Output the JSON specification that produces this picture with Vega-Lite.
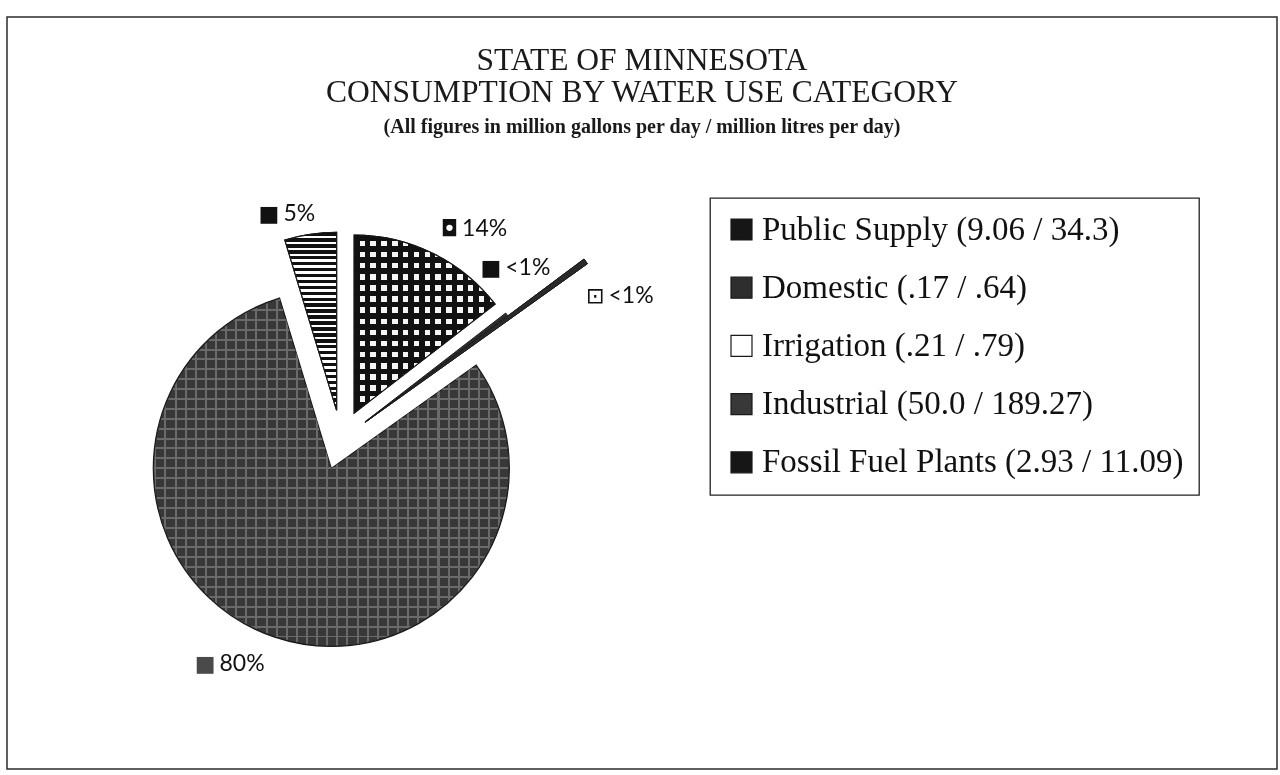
{
  "$schema": "https://vega.github.io/schema/vega-lite/v6.json",
  "width": 1270,
  "height": 752,
  "padding": {"left": 7, "top": 17, "right": 3, "bottom": 6},
  "background": "white",
  "view": {"stroke": "#2b2b2b", "strokeWidth": 1.5, "fill": null},
  "config": {
    "view": {"stroke": "#2b2b2b", "strokeWidth": 1.5},
    "style": {"cell": {"stroke": "#2b2b2b", "strokeWidth": 1.5}, "view": {"stroke": "#2b2b2b", "strokeWidth": 1.5}},
    "legend": {"strokeWidth": 1.3}
  },
  "title": {
    "text": ["STATE OF MINNESOTA", "CONSUMPTION BY WATER USE CATEGORY"],
    "subtitle": "(All figures in million gallons per day / million litres per day)",
    "anchor": "middle",
    "font": "Liberation Serif",
    "fontSize": 31.5,
    "fontWeight": "normal",
    "lineHeight": 32,
    "color": "#1a1a1a",
    "subtitleFont": "Liberation Serif",
    "subtitleFontSize": 20,
    "subtitleFontWeight": "bold",
    "subtitleColor": "#1a1a1a",
    "subtitlePadding": 9,
    "offset": -120
  },
  "data": {
    "values": [
      {"category": "Public Supply", "label": "Public Supply (9.06 / 34.3)", "mgd": 9.06, "mld": 34.3, "pct": "14%"},
      {"category": "Domestic", "label": "Domestic (.17 / .64)", "mgd": 0.17, "mld": 0.64, "pct": "<1%"},
      {"category": "Irrigation", "label": "Irrigation (.21 / .79)", "mgd": 0.21, "mld": 0.79, "pct": "<1%"},
      {"category": "Industrial", "label": "Industrial (50.0 / 189.27)", "mgd": 50.0, "mld": 189.27, "pct": "80%"},
      {"category": "Fossil Fuel Plants", "label": "Fossil Fuel Plants (2.93 / 11.09)", "mgd": 2.93, "mld": 11.09, "pct": "5%"}
    ]
  },
  "transform": [{"stack": "mgd", "groupby": [], "as": ["v0", "v1"]}],
  "layer": [
    {
      "transform": [{"filter": "datum.category === 'Public Supply'"}],
      "mark": {"type": "arc", "x": 334, "y": 423, "radius": 178, "xOffset": 13.2, "yOffset": -26.9, "stroke": "#1a1a1a", "strokeWidth": 1.2},
      "encoding": {
        "theta": {"field": "v0", "type": "quantitative", "scale": {"domain": [0, 62.37], "zero": true, "nice": false}},
        "theta2": {"field": "v1"},
        "color": {
          "field": "label", "type": "nominal",
          "scale": {
            "domain": ["Public Supply (9.06 / 34.3)", "Domestic (.17 / .64)", "Irrigation (.21 / .79)", "Industrial (50.0 / 189.27)", "Fossil Fuel Plants (2.93 / 11.09)"],
            "range": ["#161616", "#2e2e2e", "#ffffff", "#383838", "#161616"]
          },
          "legend": {
            "title": null, "orient": "none", "legendX": 703, "legendY": 181,
            "padding": 15, "strokeColor": "#222", "fillColor": "white",
            "symbolType": "square", "symbolSize": 441, "symbolStrokeColor": "#111", "symbolStrokeWidth": 1.2, "symbolOpacity": 1,
            "labelFont": "Liberation Serif", "labelFontSize": 33, "labelColor": "#111", "labelLimit": 700, "labelOffset": 4,
            "rowPadding": 24.2
          }
        }
      }
    },
    {
      "transform": [{"filter": "datum.category === 'Public Supply'"}],
      "mark": {"type": "arc", "x": 334, "y": 423, "radius": 178, "xOffset": 13.2, "yOffset": -26.9, "stroke": "#1a1a1a", "strokeWidth": 1.2,
        "fill": {"gradient": "linear", "x1": 0, "y1": 0, "x2": 0, "y2": 1, "stops": [
          {"offset": 0, "color": "#111"}, {"offset": 0.03125, "color": "#111"}, {"offset": 0.03125, "color": "#f4f4f4"}, {"offset": 0.0625, "color": "#f4f4f4"},
          {"offset": 0.0625, "color": "#111"}, {"offset": 0.09375, "color": "#111"}, {"offset": 0.09375, "color": "#f4f4f4"}, {"offset": 0.125, "color": "#f4f4f4"},
          {"offset": 0.125, "color": "#111"}, {"offset": 0.15625, "color": "#111"}, {"offset": 0.15625, "color": "#f4f4f4"}, {"offset": 0.1875, "color": "#f4f4f4"},
          {"offset": 0.1875, "color": "#111"}, {"offset": 0.21875, "color": "#111"}, {"offset": 0.21875, "color": "#f4f4f4"}, {"offset": 0.25, "color": "#f4f4f4"},
          {"offset": 0.25, "color": "#111"}, {"offset": 0.28125, "color": "#111"}, {"offset": 0.28125, "color": "#f4f4f4"}, {"offset": 0.3125, "color": "#f4f4f4"},
          {"offset": 0.3125, "color": "#111"}, {"offset": 0.34375, "color": "#111"}, {"offset": 0.34375, "color": "#f4f4f4"}, {"offset": 0.375, "color": "#f4f4f4"},
          {"offset": 0.375, "color": "#111"}, {"offset": 0.40625, "color": "#111"}, {"offset": 0.40625, "color": "#f4f4f4"}, {"offset": 0.4375, "color": "#f4f4f4"},
          {"offset": 0.4375, "color": "#111"}, {"offset": 0.46875, "color": "#111"}, {"offset": 0.46875, "color": "#f4f4f4"}, {"offset": 0.5, "color": "#f4f4f4"},
          {"offset": 0.5, "color": "#111"}, {"offset": 0.53125, "color": "#111"}, {"offset": 0.53125, "color": "#f4f4f4"}, {"offset": 0.5625, "color": "#f4f4f4"},
          {"offset": 0.5625, "color": "#111"}, {"offset": 0.59375, "color": "#111"}, {"offset": 0.59375, "color": "#f4f4f4"}, {"offset": 0.625, "color": "#f4f4f4"},
          {"offset": 0.625, "color": "#111"}, {"offset": 0.65625, "color": "#111"}, {"offset": 0.65625, "color": "#f4f4f4"}, {"offset": 0.6875, "color": "#f4f4f4"},
          {"offset": 0.6875, "color": "#111"}, {"offset": 0.71875, "color": "#111"}, {"offset": 0.71875, "color": "#f4f4f4"}, {"offset": 0.75, "color": "#f4f4f4"},
          {"offset": 0.75, "color": "#111"}, {"offset": 0.78125, "color": "#111"}, {"offset": 0.78125, "color": "#f4f4f4"}, {"offset": 0.8125, "color": "#f4f4f4"},
          {"offset": 0.8125, "color": "#111"}, {"offset": 0.84375, "color": "#111"}, {"offset": 0.84375, "color": "#f4f4f4"}, {"offset": 0.875, "color": "#f4f4f4"},
          {"offset": 0.875, "color": "#111"}, {"offset": 0.90625, "color": "#111"}, {"offset": 0.90625, "color": "#f4f4f4"}, {"offset": 0.9375, "color": "#f4f4f4"},
          {"offset": 0.9375, "color": "#111"}, {"offset": 0.96875, "color": "#111"}, {"offset": 0.96875, "color": "#f4f4f4"}, {"offset": 1, "color": "#f4f4f4"}
        ]}
      },
      "encoding": {
        "theta": {"field": "v0", "type": "quantitative"},
        "theta2": {"field": "v1"}
      }
    },
    {
      "transform": [{"filter": "datum.category === 'Public Supply'"}],
      "mark": {"type": "arc", "x": 334, "y": 423, "radius": 178, "xOffset": 13.2, "yOffset": -26.9, "strokeWidth": 0, "blend": "darken",
        "fill": {"gradient": "linear", "x1": 0, "y1": 0, "x2": 1, "y2": 0, "stops": [
          {"offset": 0, "color": "#111"}, {"offset": 0.03846, "color": "#111"}, {"offset": 0.03846, "color": "#f4f4f4"}, {"offset": 0.07692, "color": "#f4f4f4"},
          {"offset": 0.07692, "color": "#111"}, {"offset": 0.11538, "color": "#111"}, {"offset": 0.11538, "color": "#f4f4f4"}, {"offset": 0.15385, "color": "#f4f4f4"},
          {"offset": 0.15385, "color": "#111"}, {"offset": 0.19231, "color": "#111"}, {"offset": 0.19231, "color": "#f4f4f4"}, {"offset": 0.23077, "color": "#f4f4f4"},
          {"offset": 0.23077, "color": "#111"}, {"offset": 0.26923, "color": "#111"}, {"offset": 0.26923, "color": "#f4f4f4"}, {"offset": 0.30769, "color": "#f4f4f4"},
          {"offset": 0.30769, "color": "#111"}, {"offset": 0.34615, "color": "#111"}, {"offset": 0.34615, "color": "#f4f4f4"}, {"offset": 0.38462, "color": "#f4f4f4"},
          {"offset": 0.38462, "color": "#111"}, {"offset": 0.42308, "color": "#111"}, {"offset": 0.42308, "color": "#f4f4f4"}, {"offset": 0.46154, "color": "#f4f4f4"},
          {"offset": 0.46154, "color": "#111"}, {"offset": 0.5, "color": "#111"}, {"offset": 0.5, "color": "#f4f4f4"}, {"offset": 0.53846, "color": "#f4f4f4"},
          {"offset": 0.53846, "color": "#111"}, {"offset": 0.57692, "color": "#111"}, {"offset": 0.57692, "color": "#f4f4f4"}, {"offset": 0.61538, "color": "#f4f4f4"},
          {"offset": 0.61538, "color": "#111"}, {"offset": 0.65385, "color": "#111"}, {"offset": 0.65385, "color": "#f4f4f4"}, {"offset": 0.69231, "color": "#f4f4f4"},
          {"offset": 0.69231, "color": "#111"}, {"offset": 0.73077, "color": "#111"}, {"offset": 0.73077, "color": "#f4f4f4"}, {"offset": 0.76923, "color": "#f4f4f4"},
          {"offset": 0.76923, "color": "#111"}, {"offset": 0.80769, "color": "#111"}, {"offset": 0.80769, "color": "#f4f4f4"}, {"offset": 0.84615, "color": "#f4f4f4"},
          {"offset": 0.84615, "color": "#111"}, {"offset": 0.88462, "color": "#111"}, {"offset": 0.88462, "color": "#f4f4f4"}, {"offset": 0.92308, "color": "#f4f4f4"},
          {"offset": 0.92308, "color": "#111"}, {"offset": 0.96154, "color": "#111"}, {"offset": 0.96154, "color": "#f4f4f4"}, {"offset": 1, "color": "#f4f4f4"}
        ]}
      },
      "encoding": {
        "theta": {"field": "v0", "type": "quantitative"},
        "theta2": {"field": "v1"}
      }
    },
    {
      "transform": [{"filter": "datum.category === 'Domestic'"}],
      "mark": {"type": "arc", "x": 334, "y": 423, "radius": 178, "xOffset": 23.9, "yOffset": -18.1, "stroke": "#1a1a1a", "strokeWidth": 1},
      "encoding": {
        "theta": {"field": "v0", "type": "quantitative"},
        "theta2": {"field": "v1"},
        "color": {"field": "label", "type": "nominal"}
      }
    },
    {
      "transform": [{"filter": "datum.category === 'Irrigation'"}],
      "mark": {"type": "arc", "x": 334, "y": 423, "radius": 273, "xOffset": 24.2, "yOffset": -17.7, "stroke": "#1a1a1a", "strokeWidth": 1},
      "encoding": {
        "theta": {"field": "v0", "type": "quantitative"},
        "theta2": {"field": "v1"},
        "color": {"field": "label", "type": "nominal"}
      }
    },
    {
      "transform": [{"filter": "datum.category === 'Irrigation'"}],
      "mark": {"type": "arc", "x": 334, "y": 423, "radius": 273, "xOffset": 24.2, "yOffset": -17.7, "fill": "#2a2a2a", "stroke": "#1a1a1a", "strokeWidth": 1},
      "encoding": {
        "theta": {"field": "v0", "type": "quantitative"},
        "theta2": {"field": "v1"}
      }
    },
    {
      "transform": [{"filter": "datum.category === 'Industrial'"}],
      "mark": {"type": "arc", "x": 334, "y": 423, "radius": 178, "xOffset": -9.7, "yOffset": 28.4, "stroke": "#1a1a1a", "strokeWidth": 1.2},
      "encoding": {
        "theta": {"field": "v0", "type": "quantitative"},
        "theta2": {"field": "v1"},
        "color": {"field": "label", "type": "nominal"}
      }
    },
    {
      "transform": [{"filter": "datum.category === 'Industrial'"}],
      "mark": {"type": "arc", "x": 334, "y": 423, "radius": 177, "xOffset": -9.7, "yOffset": 28.4, "strokeWidth": 0, "blend": "lighten",
        "fill": {"gradient": "linear", "x1": 0, "y1": 0, "x2": 0, "y2": 1, "stops": [
          {"offset": 0, "color": "#6a6a6a"}, {"offset": 0.00571, "color": "#6a6a6a"}, {"offset": 0.00571, "color": "#000"}, {"offset": 0.02857, "color": "#000"},
          {"offset": 0.02857, "color": "#6a6a6a"}, {"offset": 0.03429, "color": "#6a6a6a"}, {"offset": 0.03429, "color": "#000"}, {"offset": 0.05714, "color": "#000"},
          {"offset": 0.05714, "color": "#6a6a6a"}, {"offset": 0.06286, "color": "#6a6a6a"}, {"offset": 0.06286, "color": "#000"}, {"offset": 0.08571, "color": "#000"},
          {"offset": 0.08571, "color": "#6a6a6a"}, {"offset": 0.09143, "color": "#6a6a6a"}, {"offset": 0.09143, "color": "#000"}, {"offset": 0.11429, "color": "#000"},
          {"offset": 0.11429, "color": "#6a6a6a"}, {"offset": 0.12, "color": "#6a6a6a"}, {"offset": 0.12, "color": "#000"}, {"offset": 0.14286, "color": "#000"},
          {"offset": 0.14286, "color": "#6a6a6a"}, {"offset": 0.14857, "color": "#6a6a6a"}, {"offset": 0.14857, "color": "#000"}, {"offset": 0.17143, "color": "#000"},
          {"offset": 0.17143, "color": "#6a6a6a"}, {"offset": 0.17714, "color": "#6a6a6a"}, {"offset": 0.17714, "color": "#000"}, {"offset": 0.2, "color": "#000"},
          {"offset": 0.2, "color": "#6a6a6a"}, {"offset": 0.20571, "color": "#6a6a6a"}, {"offset": 0.20571, "color": "#000"}, {"offset": 0.22857, "color": "#000"},
          {"offset": 0.22857, "color": "#6a6a6a"}, {"offset": 0.23429, "color": "#6a6a6a"}, {"offset": 0.23429, "color": "#000"}, {"offset": 0.25714, "color": "#000"},
          {"offset": 0.25714, "color": "#6a6a6a"}, {"offset": 0.26286, "color": "#6a6a6a"}, {"offset": 0.26286, "color": "#000"}, {"offset": 0.28571, "color": "#000"},
          {"offset": 0.28571, "color": "#6a6a6a"}, {"offset": 0.29143, "color": "#6a6a6a"}, {"offset": 0.29143, "color": "#000"}, {"offset": 0.31429, "color": "#000"},
          {"offset": 0.31429, "color": "#6a6a6a"}, {"offset": 0.32, "color": "#6a6a6a"}, {"offset": 0.32, "color": "#000"}, {"offset": 0.34286, "color": "#000"},
          {"offset": 0.34286, "color": "#6a6a6a"}, {"offset": 0.34857, "color": "#6a6a6a"}, {"offset": 0.34857, "color": "#000"}, {"offset": 0.37143, "color": "#000"},
          {"offset": 0.37143, "color": "#6a6a6a"}, {"offset": 0.37714, "color": "#6a6a6a"}, {"offset": 0.37714, "color": "#000"}, {"offset": 0.4, "color": "#000"},
          {"offset": 0.4, "color": "#6a6a6a"}, {"offset": 0.40571, "color": "#6a6a6a"}, {"offset": 0.40571, "color": "#000"}, {"offset": 0.42857, "color": "#000"},
          {"offset": 0.42857, "color": "#6a6a6a"}, {"offset": 0.43429, "color": "#6a6a6a"}, {"offset": 0.43429, "color": "#000"}, {"offset": 0.45714, "color": "#000"},
          {"offset": 0.45714, "color": "#6a6a6a"}, {"offset": 0.46286, "color": "#6a6a6a"}, {"offset": 0.46286, "color": "#000"}, {"offset": 0.48571, "color": "#000"},
          {"offset": 0.48571, "color": "#6a6a6a"}, {"offset": 0.49143, "color": "#6a6a6a"}, {"offset": 0.49143, "color": "#000"}, {"offset": 0.51429, "color": "#000"},
          {"offset": 0.51429, "color": "#6a6a6a"}, {"offset": 0.52, "color": "#6a6a6a"}, {"offset": 0.52, "color": "#000"}, {"offset": 0.54286, "color": "#000"},
          {"offset": 0.54286, "color": "#6a6a6a"}, {"offset": 0.54857, "color": "#6a6a6a"}, {"offset": 0.54857, "color": "#000"}, {"offset": 0.57143, "color": "#000"},
          {"offset": 0.57143, "color": "#6a6a6a"}, {"offset": 0.57714, "color": "#6a6a6a"}, {"offset": 0.57714, "color": "#000"}, {"offset": 0.6, "color": "#000"},
          {"offset": 0.6, "color": "#6a6a6a"}, {"offset": 0.60571, "color": "#6a6a6a"}, {"offset": 0.60571, "color": "#000"}, {"offset": 0.62857, "color": "#000"},
          {"offset": 0.62857, "color": "#6a6a6a"}, {"offset": 0.63429, "color": "#6a6a6a"}, {"offset": 0.63429, "color": "#000"}, {"offset": 0.65714, "color": "#000"},
          {"offset": 0.65714, "color": "#6a6a6a"}, {"offset": 0.66286, "color": "#6a6a6a"}, {"offset": 0.66286, "color": "#000"}, {"offset": 0.68571, "color": "#000"},
          {"offset": 0.68571, "color": "#6a6a6a"}, {"offset": 0.69143, "color": "#6a6a6a"}, {"offset": 0.69143, "color": "#000"}, {"offset": 0.71429, "color": "#000"},
          {"offset": 0.71429, "color": "#6a6a6a"}, {"offset": 0.72, "color": "#6a6a6a"}, {"offset": 0.72, "color": "#000"}, {"offset": 0.74286, "color": "#000"},
          {"offset": 0.74286, "color": "#6a6a6a"}, {"offset": 0.74857, "color": "#6a6a6a"}, {"offset": 0.74857, "color": "#000"}, {"offset": 0.77143, "color": "#000"},
          {"offset": 0.77143, "color": "#6a6a6a"}, {"offset": 0.77714, "color": "#6a6a6a"}, {"offset": 0.77714, "color": "#000"}, {"offset": 0.8, "color": "#000"},
          {"offset": 0.8, "color": "#6a6a6a"}, {"offset": 0.80571, "color": "#6a6a6a"}, {"offset": 0.80571, "color": "#000"}, {"offset": 0.82857, "color": "#000"},
          {"offset": 0.82857, "color": "#6a6a6a"}, {"offset": 0.83429, "color": "#6a6a6a"}, {"offset": 0.83429, "color": "#000"}, {"offset": 0.85714, "color": "#000"},
          {"offset": 0.85714, "color": "#6a6a6a"}, {"offset": 0.86286, "color": "#6a6a6a"}, {"offset": 0.86286, "color": "#000"}, {"offset": 0.88571, "color": "#000"},
          {"offset": 0.88571, "color": "#6a6a6a"}, {"offset": 0.89143, "color": "#6a6a6a"}, {"offset": 0.89143, "color": "#000"}, {"offset": 0.91429, "color": "#000"},
          {"offset": 0.91429, "color": "#6a6a6a"}, {"offset": 0.92, "color": "#6a6a6a"}, {"offset": 0.92, "color": "#000"}, {"offset": 0.94286, "color": "#000"},
          {"offset": 0.94286, "color": "#6a6a6a"}, {"offset": 0.94857, "color": "#6a6a6a"}, {"offset": 0.94857, "color": "#000"}, {"offset": 0.97143, "color": "#000"},
          {"offset": 0.97143, "color": "#6a6a6a"}, {"offset": 0.97714, "color": "#6a6a6a"}, {"offset": 0.97714, "color": "#000"}, {"offset": 1, "color": "#000"}
        ]}
      },
      "encoding": {
        "theta": {"field": "v0", "type": "quantitative"},
        "theta2": {"field": "v1"}
      }
    },
    {
      "transform": [{"filter": "datum.category === 'Industrial'"}],
      "mark": {"type": "arc", "x": 334, "y": 423, "radius": 177, "xOffset": -9.7, "yOffset": 28.4, "strokeWidth": 0, "blend": "lighten",
        "fill": {"gradient": "linear", "x1": 0, "y1": 0, "x2": 1, "y2": 0, "stops": [
          {"offset": 0, "color": "#6a6a6a"}, {"offset": 0.00571, "color": "#6a6a6a"}, {"offset": 0.00571, "color": "#000"}, {"offset": 0.02857, "color": "#000"},
          {"offset": 0.02857, "color": "#6a6a6a"}, {"offset": 0.03429, "color": "#6a6a6a"}, {"offset": 0.03429, "color": "#000"}, {"offset": 0.05714, "color": "#000"},
          {"offset": 0.05714, "color": "#6a6a6a"}, {"offset": 0.06286, "color": "#6a6a6a"}, {"offset": 0.06286, "color": "#000"}, {"offset": 0.08571, "color": "#000"},
          {"offset": 0.08571, "color": "#6a6a6a"}, {"offset": 0.09143, "color": "#6a6a6a"}, {"offset": 0.09143, "color": "#000"}, {"offset": 0.11429, "color": "#000"},
          {"offset": 0.11429, "color": "#6a6a6a"}, {"offset": 0.12, "color": "#6a6a6a"}, {"offset": 0.12, "color": "#000"}, {"offset": 0.14286, "color": "#000"},
          {"offset": 0.14286, "color": "#6a6a6a"}, {"offset": 0.14857, "color": "#6a6a6a"}, {"offset": 0.14857, "color": "#000"}, {"offset": 0.17143, "color": "#000"},
          {"offset": 0.17143, "color": "#6a6a6a"}, {"offset": 0.17714, "color": "#6a6a6a"}, {"offset": 0.17714, "color": "#000"}, {"offset": 0.2, "color": "#000"},
          {"offset": 0.2, "color": "#6a6a6a"}, {"offset": 0.20571, "color": "#6a6a6a"}, {"offset": 0.20571, "color": "#000"}, {"offset": 0.22857, "color": "#000"},
          {"offset": 0.22857, "color": "#6a6a6a"}, {"offset": 0.23429, "color": "#6a6a6a"}, {"offset": 0.23429, "color": "#000"}, {"offset": 0.25714, "color": "#000"},
          {"offset": 0.25714, "color": "#6a6a6a"}, {"offset": 0.26286, "color": "#6a6a6a"}, {"offset": 0.26286, "color": "#000"}, {"offset": 0.28571, "color": "#000"},
          {"offset": 0.28571, "color": "#6a6a6a"}, {"offset": 0.29143, "color": "#6a6a6a"}, {"offset": 0.29143, "color": "#000"}, {"offset": 0.31429, "color": "#000"},
          {"offset": 0.31429, "color": "#6a6a6a"}, {"offset": 0.32, "color": "#6a6a6a"}, {"offset": 0.32, "color": "#000"}, {"offset": 0.34286, "color": "#000"},
          {"offset": 0.34286, "color": "#6a6a6a"}, {"offset": 0.34857, "color": "#6a6a6a"}, {"offset": 0.34857, "color": "#000"}, {"offset": 0.37143, "color": "#000"},
          {"offset": 0.37143, "color": "#6a6a6a"}, {"offset": 0.37714, "color": "#6a6a6a"}, {"offset": 0.37714, "color": "#000"}, {"offset": 0.4, "color": "#000"},
          {"offset": 0.4, "color": "#6a6a6a"}, {"offset": 0.40571, "color": "#6a6a6a"}, {"offset": 0.40571, "color": "#000"}, {"offset": 0.42857, "color": "#000"},
          {"offset": 0.42857, "color": "#6a6a6a"}, {"offset": 0.43429, "color": "#6a6a6a"}, {"offset": 0.43429, "color": "#000"}, {"offset": 0.45714, "color": "#000"},
          {"offset": 0.45714, "color": "#6a6a6a"}, {"offset": 0.46286, "color": "#6a6a6a"}, {"offset": 0.46286, "color": "#000"}, {"offset": 0.48571, "color": "#000"},
          {"offset": 0.48571, "color": "#6a6a6a"}, {"offset": 0.49143, "color": "#6a6a6a"}, {"offset": 0.49143, "color": "#000"}, {"offset": 0.51429, "color": "#000"},
          {"offset": 0.51429, "color": "#6a6a6a"}, {"offset": 0.52, "color": "#6a6a6a"}, {"offset": 0.52, "color": "#000"}, {"offset": 0.54286, "color": "#000"},
          {"offset": 0.54286, "color": "#6a6a6a"}, {"offset": 0.54857, "color": "#6a6a6a"}, {"offset": 0.54857, "color": "#000"}, {"offset": 0.57143, "color": "#000"},
          {"offset": 0.57143, "color": "#6a6a6a"}, {"offset": 0.57714, "color": "#6a6a6a"}, {"offset": 0.57714, "color": "#000"}, {"offset": 0.6, "color": "#000"},
          {"offset": 0.6, "color": "#6a6a6a"}, {"offset": 0.60571, "color": "#6a6a6a"}, {"offset": 0.60571, "color": "#000"}, {"offset": 0.62857, "color": "#000"},
          {"offset": 0.62857, "color": "#6a6a6a"}, {"offset": 0.63429, "color": "#6a6a6a"}, {"offset": 0.63429, "color": "#000"}, {"offset": 0.65714, "color": "#000"},
          {"offset": 0.65714, "color": "#6a6a6a"}, {"offset": 0.66286, "color": "#6a6a6a"}, {"offset": 0.66286, "color": "#000"}, {"offset": 0.68571, "color": "#000"},
          {"offset": 0.68571, "color": "#6a6a6a"}, {"offset": 0.69143, "color": "#6a6a6a"}, {"offset": 0.69143, "color": "#000"}, {"offset": 0.71429, "color": "#000"},
          {"offset": 0.71429, "color": "#6a6a6a"}, {"offset": 0.72, "color": "#6a6a6a"}, {"offset": 0.72, "color": "#000"}, {"offset": 0.74286, "color": "#000"},
          {"offset": 0.74286, "color": "#6a6a6a"}, {"offset": 0.74857, "color": "#6a6a6a"}, {"offset": 0.74857, "color": "#000"}, {"offset": 0.77143, "color": "#000"},
          {"offset": 0.77143, "color": "#6a6a6a"}, {"offset": 0.77714, "color": "#6a6a6a"}, {"offset": 0.77714, "color": "#000"}, {"offset": 0.8, "color": "#000"},
          {"offset": 0.8, "color": "#6a6a6a"}, {"offset": 0.80571, "color": "#6a6a6a"}, {"offset": 0.80571, "color": "#000"}, {"offset": 0.82857, "color": "#000"},
          {"offset": 0.82857, "color": "#6a6a6a"}, {"offset": 0.83429, "color": "#6a6a6a"}, {"offset": 0.83429, "color": "#000"}, {"offset": 0.85714, "color": "#000"},
          {"offset": 0.85714, "color": "#6a6a6a"}, {"offset": 0.86286, "color": "#6a6a6a"}, {"offset": 0.86286, "color": "#000"}, {"offset": 0.88571, "color": "#000"},
          {"offset": 0.88571, "color": "#6a6a6a"}, {"offset": 0.89143, "color": "#6a6a6a"}, {"offset": 0.89143, "color": "#000"}, {"offset": 0.91429, "color": "#000"},
          {"offset": 0.91429, "color": "#6a6a6a"}, {"offset": 0.92, "color": "#6a6a6a"}, {"offset": 0.92, "color": "#000"}, {"offset": 0.94286, "color": "#000"},
          {"offset": 0.94286, "color": "#6a6a6a"}, {"offset": 0.94857, "color": "#6a6a6a"}, {"offset": 0.94857, "color": "#000"}, {"offset": 0.97143, "color": "#000"},
          {"offset": 0.97143, "color": "#6a6a6a"}, {"offset": 0.97714, "color": "#6a6a6a"}, {"offset": 0.97714, "color": "#000"}, {"offset": 1, "color": "#000"}
        ]}
      },
      "encoding": {
        "theta": {"field": "v0", "type": "quantitative"},
        "theta2": {"field": "v1"}
      }
    },
    {
      "transform": [{"filter": "datum.category === 'Fossil Fuel Plants'"}],
      "mark": {"type": "arc", "x": 334, "y": 423, "radius": 178, "xOffset": -4.4, "yOffset": -29.7, "stroke": "#1a1a1a", "strokeWidth": 1.2},
      "encoding": {
        "theta": {"field": "v0", "type": "quantitative"},
        "theta2": {"field": "v1"},
        "color": {"field": "label", "type": "nominal"}
      }
    },
    {
      "transform": [{"filter": "datum.category === 'Fossil Fuel Plants'"}],
      "mark": {"type": "arc", "x": 334, "y": 423, "radius": 178, "xOffset": -4.4, "yOffset": -29.7, "stroke": "#1a1a1a", "strokeWidth": 1.2,
        "fill": {"gradient": "linear", "x1": 0, "y1": 0, "x2": 0, "y2": 1, "stops": [
          {"offset": 0, "color": "#111"}, {"offset": 0.01933, "color": "#111"}, {"offset": 0.01933, "color": "#fff"}, {"offset": 0.03333, "color": "#fff"},
          {"offset": 0.03333, "color": "#111"}, {"offset": 0.05267, "color": "#111"}, {"offset": 0.05267, "color": "#fff"}, {"offset": 0.06667, "color": "#fff"},
          {"offset": 0.06667, "color": "#111"}, {"offset": 0.086, "color": "#111"}, {"offset": 0.086, "color": "#fff"}, {"offset": 0.1, "color": "#fff"},
          {"offset": 0.1, "color": "#111"}, {"offset": 0.11933, "color": "#111"}, {"offset": 0.11933, "color": "#fff"}, {"offset": 0.13333, "color": "#fff"},
          {"offset": 0.13333, "color": "#111"}, {"offset": 0.15267, "color": "#111"}, {"offset": 0.15267, "color": "#fff"}, {"offset": 0.16667, "color": "#fff"},
          {"offset": 0.16667, "color": "#111"}, {"offset": 0.186, "color": "#111"}, {"offset": 0.186, "color": "#fff"}, {"offset": 0.2, "color": "#fff"},
          {"offset": 0.2, "color": "#111"}, {"offset": 0.21933, "color": "#111"}, {"offset": 0.21933, "color": "#fff"}, {"offset": 0.23333, "color": "#fff"},
          {"offset": 0.23333, "color": "#111"}, {"offset": 0.25267, "color": "#111"}, {"offset": 0.25267, "color": "#fff"}, {"offset": 0.26667, "color": "#fff"},
          {"offset": 0.26667, "color": "#111"}, {"offset": 0.286, "color": "#111"}, {"offset": 0.286, "color": "#fff"}, {"offset": 0.3, "color": "#fff"},
          {"offset": 0.3, "color": "#111"}, {"offset": 0.31933, "color": "#111"}, {"offset": 0.31933, "color": "#fff"}, {"offset": 0.33333, "color": "#fff"},
          {"offset": 0.33333, "color": "#111"}, {"offset": 0.35267, "color": "#111"}, {"offset": 0.35267, "color": "#fff"}, {"offset": 0.36667, "color": "#fff"},
          {"offset": 0.36667, "color": "#111"}, {"offset": 0.386, "color": "#111"}, {"offset": 0.386, "color": "#fff"}, {"offset": 0.4, "color": "#fff"},
          {"offset": 0.4, "color": "#111"}, {"offset": 0.41933, "color": "#111"}, {"offset": 0.41933, "color": "#fff"}, {"offset": 0.43333, "color": "#fff"},
          {"offset": 0.43333, "color": "#111"}, {"offset": 0.45267, "color": "#111"}, {"offset": 0.45267, "color": "#fff"}, {"offset": 0.46667, "color": "#fff"},
          {"offset": 0.46667, "color": "#111"}, {"offset": 0.486, "color": "#111"}, {"offset": 0.486, "color": "#fff"}, {"offset": 0.5, "color": "#fff"},
          {"offset": 0.5, "color": "#111"}, {"offset": 0.51933, "color": "#111"}, {"offset": 0.51933, "color": "#fff"}, {"offset": 0.53333, "color": "#fff"},
          {"offset": 0.53333, "color": "#111"}, {"offset": 0.55267, "color": "#111"}, {"offset": 0.55267, "color": "#fff"}, {"offset": 0.56667, "color": "#fff"},
          {"offset": 0.56667, "color": "#111"}, {"offset": 0.586, "color": "#111"}, {"offset": 0.586, "color": "#fff"}, {"offset": 0.6, "color": "#fff"},
          {"offset": 0.6, "color": "#111"}, {"offset": 0.61933, "color": "#111"}, {"offset": 0.61933, "color": "#fff"}, {"offset": 0.63333, "color": "#fff"},
          {"offset": 0.63333, "color": "#111"}, {"offset": 0.65267, "color": "#111"}, {"offset": 0.65267, "color": "#fff"}, {"offset": 0.66667, "color": "#fff"},
          {"offset": 0.66667, "color": "#111"}, {"offset": 0.686, "color": "#111"}, {"offset": 0.686, "color": "#fff"}, {"offset": 0.7, "color": "#fff"},
          {"offset": 0.7, "color": "#111"}, {"offset": 0.71933, "color": "#111"}, {"offset": 0.71933, "color": "#fff"}, {"offset": 0.73333, "color": "#fff"},
          {"offset": 0.73333, "color": "#111"}, {"offset": 0.75267, "color": "#111"}, {"offset": 0.75267, "color": "#fff"}, {"offset": 0.76667, "color": "#fff"},
          {"offset": 0.76667, "color": "#111"}, {"offset": 0.786, "color": "#111"}, {"offset": 0.786, "color": "#fff"}, {"offset": 0.8, "color": "#fff"},
          {"offset": 0.8, "color": "#111"}, {"offset": 0.81933, "color": "#111"}, {"offset": 0.81933, "color": "#fff"}, {"offset": 0.83333, "color": "#fff"},
          {"offset": 0.83333, "color": "#111"}, {"offset": 0.85267, "color": "#111"}, {"offset": 0.85267, "color": "#fff"}, {"offset": 0.86667, "color": "#fff"},
          {"offset": 0.86667, "color": "#111"}, {"offset": 0.886, "color": "#111"}, {"offset": 0.886, "color": "#fff"}, {"offset": 0.9, "color": "#fff"},
          {"offset": 0.9, "color": "#111"}, {"offset": 0.91933, "color": "#111"}, {"offset": 0.91933, "color": "#fff"}, {"offset": 0.93333, "color": "#fff"},
          {"offset": 0.93333, "color": "#111"}, {"offset": 0.95267, "color": "#111"}, {"offset": 0.95267, "color": "#fff"}, {"offset": 0.96667, "color": "#fff"},
          {"offset": 0.96667, "color": "#111"}, {"offset": 0.986, "color": "#111"}, {"offset": 0.986, "color": "#fff"}, {"offset": 1, "color": "#fff"}
        ]}
      },
      "encoding": {
        "theta": {"field": "v0", "type": "quantitative"},
        "theta2": {"field": "v1"}
      }
    },
    {
      "transform": [{"filter": "datum.category === 'Fossil Fuel Plants'"}],
      "mark": {"type": "text", "x": 334, "y": 423, "radius": 234, "thetaOffset": 0.0333, "align": "left", "baseline": "middle", "dx": 3, "font": "Lato", "fontSize": 23, "fill": "#111"},
      "encoding": {"theta": {"field": "v0", "type": "quantitative", "stack": null}, "text": {"field": "pct"}}
    },
    {
      "transform": [{"filter": "datum.category === 'Fossil Fuel Plants'"}],
      "mark": {"type": "text", "x": 334, "y": 423, "radius": 234, "thetaOffset": 0.0333, "align": "right", "baseline": "middle", "dx": -1, "font": "DejaVu Sans", "fontSize": 22, "fill": "#111", "text": "■"},
      "encoding": {"theta": {"field": "v0", "type": "quantitative", "stack": null}}
    },
    {
      "transform": [{"filter": "datum.category === 'Public Supply'"}],
      "mark": {"type": "text", "x": 334, "y": 423, "radius": 242, "thetaOffset": 0.5096, "align": "left", "baseline": "middle", "dx": 3, "font": "Lato", "fontSize": 23, "fill": "#111"},
      "encoding": {"theta": {"field": "v0", "type": "quantitative", "stack": null}, "text": {"field": "pct"}}
    },
    {
      "transform": [{"filter": "datum.category === 'Public Supply'"}],
      "mark": {"type": "text", "x": 334, "y": 423, "radius": 242, "thetaOffset": 0.5096, "align": "right", "baseline": "middle", "dx": -1, "font": "DejaVu Sans", "fontSize": 22, "fill": "#111", "text": "◘"},
      "encoding": {"theta": {"field": "v0", "type": "quantitative", "stack": null}}
    },
    {
      "transform": [{"filter": "datum.category === 'Domestic'"}],
      "mark": {"type": "text", "x": 334, "y": 423, "radius": 236, "thetaOffset": -0.1604, "align": "left", "baseline": "middle", "dx": 3, "font": "Lato", "fontSize": 23, "fill": "#111"},
      "encoding": {"theta": {"field": "v0", "type": "quantitative", "stack": null}, "text": {"field": "pct"}}
    },
    {
      "transform": [{"filter": "datum.category === 'Domestic'"}],
      "mark": {"type": "text", "x": 334, "y": 423, "radius": 236, "thetaOffset": -0.1604, "align": "right", "baseline": "middle", "dx": -1, "font": "DejaVu Sans", "fontSize": 22, "fill": "#111", "text": "■"},
      "encoding": {"theta": {"field": "v0", "type": "quantitative", "stack": null}}
    },
    {
      "transform": [{"filter": "datum.category === 'Irrigation'"}],
      "mark": {"type": "text", "x": 334, "y": 423, "radius": 301, "thetaOffset": 0.1435, "align": "left", "baseline": "middle", "dx": 3, "font": "Lato", "fontSize": 23, "fill": "#111"},
      "encoding": {"theta": {"field": "v0", "type": "quantitative", "stack": null}, "text": {"field": "pct"}}
    },
    {
      "transform": [{"filter": "datum.category === 'Irrigation'"}],
      "mark": {"type": "text", "x": 334, "y": 423, "radius": 301, "thetaOffset": 0.1435, "align": "right", "baseline": "middle", "dx": -1, "font": "DejaVu Sans", "fontSize": 22, "fill": "#111", "text": "⊡"},
      "encoding": {"theta": {"field": "v0", "type": "quantitative", "stack": null}}
    },
    {
      "transform": [{"filter": "datum.category === 'Industrial'"}],
      "mark": {"type": "text", "x": 334, "y": 423, "radius": 256, "thetaOffset": 2.6985, "align": "left", "baseline": "middle", "dx": 3, "font": "Lato", "fontSize": 23, "fill": "#111"},
      "encoding": {"theta": {"field": "v0", "type": "quantitative", "stack": null}, "text": {"field": "pct"}}
    },
    {
      "transform": [{"filter": "datum.category === 'Industrial'"}],
      "mark": {"type": "text", "x": 334, "y": 423, "radius": 256, "thetaOffset": 2.6985, "align": "right", "baseline": "middle", "dx": -1, "font": "DejaVu Sans", "fontSize": 22, "fill": "#4a4a4a", "text": "■"},
      "encoding": {"theta": {"field": "v0", "type": "quantitative", "stack": null}}
    }
  ]
}
